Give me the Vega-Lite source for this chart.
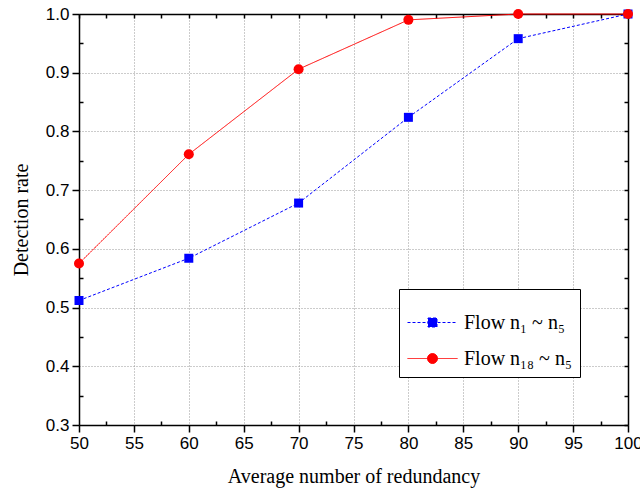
{
  "$schema": "https://vega.github.io/schema/vega-lite/v6.json",
  "width": 549,
  "height": 411,
  "autosize": {"type": "none"},
  "padding": {"left": 79, "top": 14, "right": 12, "bottom": 66},
  "config": {
    "view": {"stroke": null},
    "axis": {
      "labelFont": "Liberation Sans", "labelFontSize": 17, "labelColor": "black",
      "titleFont": "Liberation Serif", "titleFontSize": 20, "titleFontWeight": "normal", "titleColor": "black",
      "domainColor": "black", "tickColor": "black", "domainWidth": 1.5, "tickWidth": 1.5,
      "labelFlush": false
    }
  },
  "data": {"values": [
    {"x": 50, "y": 0.512, "series": "Flow n₁ ~ n₅"},
    {"x": 60, "y": 0.584, "series": "Flow n₁ ~ n₅"},
    {"x": 70, "y": 0.678, "series": "Flow n₁ ~ n₅"},
    {"x": 80, "y": 0.824, "series": "Flow n₁ ~ n₅"},
    {"x": 90, "y": 0.958, "series": "Flow n₁ ~ n₅"},
    {"x": 100, "y": 1.0, "series": "Flow n₁ ~ n₅"},
    {"x": 50, "y": 0.575, "series": "Flow n₁₈ ~ n₅"},
    {"x": 60, "y": 0.761, "series": "Flow n₁₈ ~ n₅"},
    {"x": 70, "y": 0.906, "series": "Flow n₁₈ ~ n₅"},
    {"x": 80, "y": 0.99, "series": "Flow n₁₈ ~ n₅"},
    {"x": 90, "y": 1.0, "series": "Flow n₁₈ ~ n₅"},
    {"x": 100, "y": 1.0, "series": "Flow n₁₈ ~ n₅"}
  ]},
  "resolve": {"axis": {"x": "independent", "y": "independent"}},
  "layer": [
    {
      "mark": {"type": "point", "filled": true, "opacity": 0, "strokeWidth": 1},
      "encoding": {
        "x": {"field": "x", "type": "quantitative", "scale": {"domain": [50, 100], "nice": false, "zero": false}, "axis": null},
        "y": {"field": "y", "type": "quantitative", "scale": {"domain": [0.3, 1.0], "nice": false, "zero": false}, "axis": null},
        "fill": {"field": "series", "type": "nominal",
          "scale": {"domain": ["Flow n₁ ~ n₅", "Flow n₁₈ ~ n₅"], "range": ["#0000ff", "#ff0000"]},
          "legend": {
            "orient": "bottom-right", "offset": 48, "title": null,
            "strokeColor": "black", "fillColor": "white", "padding": 8,
            "labelFont": "Liberation Serif", "labelFontSize": 20, "labelColor": "black",
            "symbolSize": 2500, "rowPadding": 0, "labelOffset": 6, "symbolStrokeWidth": 1, "symbolOpacity": 1,
            "symbolFillColor": "#0000ff"
          }},
        "stroke": {"field": "series", "type": "nominal",
          "scale": {"domain": ["Flow n₁ ~ n₅", "Flow n₁₈ ~ n₅"], "range": ["#0000ff", "#ff0000"]},
          "legend": {"title": null, "symbolFillColor": "#0000ff", "symbolOpacity": 1}},
        "shape": {"field": "series", "type": "nominal",
          "scale": {"domain": ["Flow n₁ ~ n₅", "Flow n₁₈ ~ n₅"], "range": ["M-1,0H1M-0.18,-0.18H0.18V0.18H-0.18Z", "M-1,0H1M-0.2,0A0.2,0.2 0 1,0 0.2,0A0.2,0.2 0 1,0 -0.2,0Z"]},
          "legend": {"title": null, "symbolFillColor": "#0000ff", "symbolOpacity": 1}},
        "strokeDash": {"field": "series", "type": "nominal",
          "scale": {"domain": ["Flow n₁ ~ n₅", "Flow n₁₈ ~ n₅"], "range": [[3, 2], [1, 0]]},
          "legend": {"title": null, "symbolFillColor": "#0000ff", "symbolOpacity": 1}}
      }
    },
    {
      "mark": {"type": "line", "strokeWidth": 1, "clip": false},
      "encoding": {
        "x": {"field": "x", "type": "quantitative", "scale": {"domain": [50, 100], "nice": false, "zero": false},
          "axis": {"orient": "bottom", "values": [50,55,60,65,70,75,80,85,90,95,100], "tickSize": 7, "labelPadding": 3,
            "grid": true, "gridDash": [1, 2], "gridColor": "#999999", "gridWidth": 1,
            "title": "Average number of redundancy", "titlePadding": 15}},
        "y": {"field": "y", "type": "quantitative", "scale": {"domain": [0.3, 1.0], "nice": false, "zero": false},
          "axis": {"orient": "left", "values": [0.3,0.4,0.5,0.6,0.7,0.8,0.9,1.0], "format": ".1f", "tickSize": 7, "labelPadding": 3,
            "grid": true, "gridDash": [1, 2], "gridColor": "#999999", "gridWidth": 1,
            "title": "Detection rate", "titlePadding": 14}},
        "color": {"field": "series", "type": "nominal",
          "scale": {"domain": ["Flow n₁ ~ n₅", "Flow n₁₈ ~ n₅"], "range": ["#0000ff", "#ff0000"]}, "legend": null},
        "strokeDash": {"field": "series", "type": "nominal",
          "scale": {"domain": ["Flow n₁ ~ n₅", "Flow n₁₈ ~ n₅"], "range": [[3, 2], [1, 0]]}, "legend": null}
      }
    },
    {
      "transform": [{"filter": "datum.series == 'Flow n₁ ~ n₅'"}],
      "mark": {"type": "point", "filled": true, "opacity": 1, "shape": "square", "size": 81, "color": "#0000ff", "clip": false},
      "encoding": {
        "x": {"field": "x", "type": "quantitative", "scale": {"domain": [50, 100], "nice": false, "zero": false}, "axis": null},
        "y": {"field": "y", "type": "quantitative", "scale": {"domain": [0.3, 1.0], "nice": false, "zero": false}, "axis": null}
      }
    },
    {
      "transform": [{"filter": "datum.series == 'Flow n₁₈ ~ n₅'"}],
      "mark": {"type": "point", "filled": true, "opacity": 1, "shape": "circle", "size": 100, "color": "#ff0000", "clip": false},
      "encoding": {
        "x": {"field": "x", "type": "quantitative", "scale": {"domain": [50, 100], "nice": false, "zero": false}, "axis": null},
        "y": {"field": "y", "type": "quantitative", "scale": {"domain": [0.3, 1.0], "nice": false, "zero": false}, "axis": null}
      }
    },
    {
      "mark": {"type": "rule", "opacity": 0},
      "encoding": {
        "x": {"field": "x", "type": "quantitative", "scale": {"domain": [50, 100], "nice": false, "zero": false},
          "axis": {"orient": "bottom", "values": [52.5,57.5,62.5,67.5,72.5,77.5,82.5,87.5,92.5,97.5], "tickSize": -4,
            "labels": false, "domain": false, "grid": false, "title": null}}
      }
    },
    {
      "mark": {"type": "rule", "opacity": 0},
      "encoding": {
        "x": {"field": "x", "type": "quantitative", "scale": {"domain": [50, 100], "nice": false, "zero": false},
          "axis": {"orient": "top", "values": [50,52.5,55,57.5,60,62.5,65,67.5,70,72.5,75,77.5,80,82.5,85,87.5,90,92.5,95,97.5,100], "tickSize": -4,
            "labels": false, "domain": true, "grid": false, "title": null}}
      }
    },
    {
      "mark": {"type": "rule", "opacity": 0},
      "encoding": {
        "y": {"field": "y", "type": "quantitative", "scale": {"domain": [0.3, 1.0], "nice": false, "zero": false},
          "axis": {"orient": "left", "values": [0.35,0.45,0.55,0.65,0.75,0.85,0.95], "tickSize": -4,
            "labels": false, "domain": false, "grid": false, "title": null}}
      }
    },
    {
      "mark": {"type": "rule", "opacity": 0},
      "encoding": {
        "y": {"field": "y", "type": "quantitative", "scale": {"domain": [0.3, 1.0], "nice": false, "zero": false},
          "axis": {"orient": "right", "values": [0.3,0.35,0.4,0.45,0.5,0.55,0.6,0.65,0.7,0.75,0.8,0.85,0.9,0.95,1.0], "tickSize": -4,
            "labels": false, "domain": true, "grid": false, "title": null}}
      }
    }
  ]
}
